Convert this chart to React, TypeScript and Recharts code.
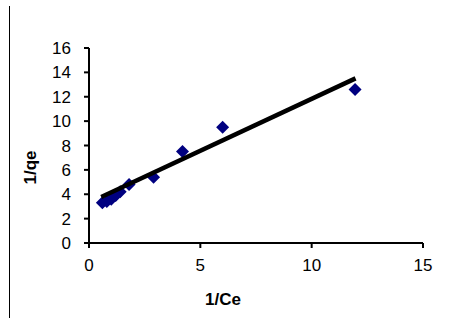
import React from 'react';
import { ScatterChart, Scatter, XAxis, YAxis, Label } from 'recharts';

// 1/Ce vs 1/qe measurements
const invCe = [0.6, 0.8, 1.0, 1.2, 1.4, 1.8, 2.9, 4.2, 6.0, 11.95];
const invQe = [3.3, 3.4, 3.6, 3.9, 4.2, 4.8, 5.4, 7.5, 9.5, 12.6];

// linear trend line (slope, intercept) and its x-range
const trendSlope = 0.853;
const trendIntercept = 3.3;
const trendRange = [0.55, 11.97];

const xTicks = [0, 5, 10, 15];
const yTicks = [0, 2, 4, 6, 8, 10, 12, 14, 16];

const points = invCe.map((x, i) => ({ x, y: invQe[i] }));
const trend = trendRange.map(x => ({ x, y: trendSlope * x + trendIntercept }));

const FONT = '"Liberation Sans", Arial, sans-serif';

const Diamond = (props: any) => {
  const { cx, cy } = props;
  const r = 6.5;
  return (
    <polygon
      points={`${cx},${cy - r} ${cx + r},${cy} ${cx},${cy + r} ${cx - r},${cy}`}
      fill="#000080"
    />
  );
};

export default function App() {
  return (
    <div style={{ position: 'absolute', left: 0, top: 0, width: 460, height: 328, background: '#fff', fontFamily: FONT }}>
      {/* thin frame line on the left */}
      <div style={{ position: 'absolute', left: 9, top: 6, width: 1, height: 312, background: '#000' }} />
      <ScatterChart width={460} height={328} margin={{ top: 48, right: 37, bottom: 55, left: 49 }}>
        <XAxis
          type="number"
          dataKey="x"
          domain={[0, 15]}
          ticks={xTicks}
          interval={0}
          height={30}
          stroke="#000"
          strokeWidth={2}
          tickSize={5}
          tickMargin={11}
          tick={{ fill: '#000', fontSize: 17, fontFamily: FONT }}
          allowDataOverflow
        >
          <Label
            content={({ viewBox }: any) => (
              <text
                x={viewBox.x + 134}
                y={viewBox.y + 56}
                textAnchor="middle"
                dominantBaseline="central"
                fontFamily={FONT}
                fontSize={17}
                fontWeight="bold"
                fill="#000"
              >
                1/Ce
              </text>
            )}
          />
        </XAxis>
        <YAxis
          type="number"
          dataKey="y"
          domain={[0, 16]}
          ticks={yTicks}
          interval={0}
          width={40}
          stroke="#000"
          strokeWidth={2}
          tickSize={5}
          tickMargin={13}
          tick={{ fill: '#000', fontSize: 17, fontFamily: FONT }}
          allowDataOverflow
        >
          <Label
            content={({ viewBox }: any) => {
              const lx = viewBox.x - 19;
              const ly = viewBox.y + viewBox.height / 2 + 22;
              return (
                <text
                  x={lx}
                  y={ly}
                  transform={`rotate(-90 ${lx} ${ly})`}
                  textAnchor="middle"
                  dominantBaseline="central"
                  fontFamily={FONT}
                  fontSize={17}
                  fontWeight="bold"
                  fill="#000"
                >
                  1/qe
                </text>
              );
            }}
          />
        </YAxis>
        <Scatter data={points} shape={<Diamond />} isAnimationActive={false} />
        <Scatter
          data={trend}
          line={{ stroke: '#000', strokeWidth: 4.5 }}
          shape={() => null}
          isAnimationActive={false}
        />
      </ScatterChart>
    </div>
  );
}
